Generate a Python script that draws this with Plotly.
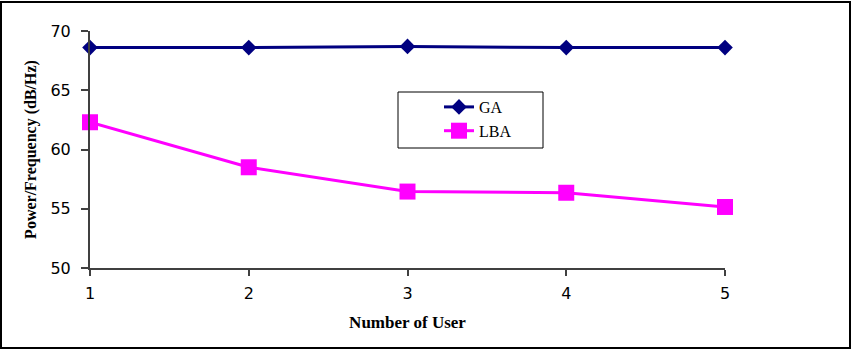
import plotly.graph_objects as go

users = [1, 2, 3, 4, 5]
ga = [68.6, 68.6, 68.7, 68.6, 68.6]
lba = [62.3, 58.5, 56.45, 56.35, 55.15]
y_ticks = [50, 55, 60, 65, 70]

W, H = 855, 352
L, R, T, B = 90, 130, 31, 84
pw, ph = W - L - R, H - T - B

fig = go.Figure()
fig.add_trace(go.Scatter(x=users, y=ga, name="GA", mode="lines+markers",
                         cliponaxis=False,
                         line=dict(color="#000080", width=3),
                         marker=dict(symbol="diamond", size=12, color="#000080")))
fig.add_trace(go.Scatter(x=users, y=lba, name="LBA", mode="lines+markers",
                         cliponaxis=False,
                         line=dict(color="#FF00FF", width=3),
                         marker=dict(symbol="square", size=16, color="#FF00FF")))

def px_x(p):
    return (p - L) / pw

def px_y(p):
    return (H - B - p) / ph

# outer frame
fig.add_shape(type="rect", xref="paper", yref="paper",
              x0=px_x(1), x1=px_x(850), y0=px_y(348), y1=px_y(2),
              line=dict(color="black", width=2), fillcolor="rgba(0,0,0,0)")
# legend frame
fig.add_shape(type="rect", xref="paper", yref="paper",
              x0=px_x(398), x1=px_x(543), y0=px_y(148), y1=px_y(92),
              line=dict(color="black", width=1), fillcolor="rgba(0,0,0,0)")

fig.update_layout(
    width=W, height=H, margin=dict(l=L, r=R, t=T, b=B),
    paper_bgcolor="white", plot_bgcolor="white",
    showlegend=True,
    legend=dict(x=px_x(439), y=px_y(90), xanchor="left", yanchor="top",
                borderwidth=0, bgcolor="rgba(0,0,0,0)",
                font=dict(family="Liberation Serif", size=16, color="black"),
                tracegroupgap=0),
    xaxis=dict(range=[1, 5], tickvals=users, showgrid=False, zeroline=False,
               showline=True, linecolor="#404040", linewidth=2,
               ticks="outside", ticklen=6, tickcolor="#404040", tickwidth=2,
               ticklabelstandoff=4,
               tickfont=dict(family="DejaVu Sans", size=16, color="black"),
               title=dict(text="<b>Number of User</b>", standoff=14,
                          font=dict(family="Liberation Serif", size=17, color="black"))),
    yaxis=dict(range=[50, 70], tickvals=y_ticks, showgrid=False, zeroline=False,
               showline=True, linecolor="#404040", linewidth=2,
               ticks="outside", ticklen=7, tickcolor="#404040", tickwidth=2,
               ticklabelstandoff=7,
               tickfont=dict(family="DejaVu Sans", size=16, color="black"),
               title=dict(text="<b>Power/Frequency (dB/Hz)</b>", standoff=10,
                          font=dict(family="Liberation Serif", size=16, color="black"))),
)

fig.write_html("out.html")
